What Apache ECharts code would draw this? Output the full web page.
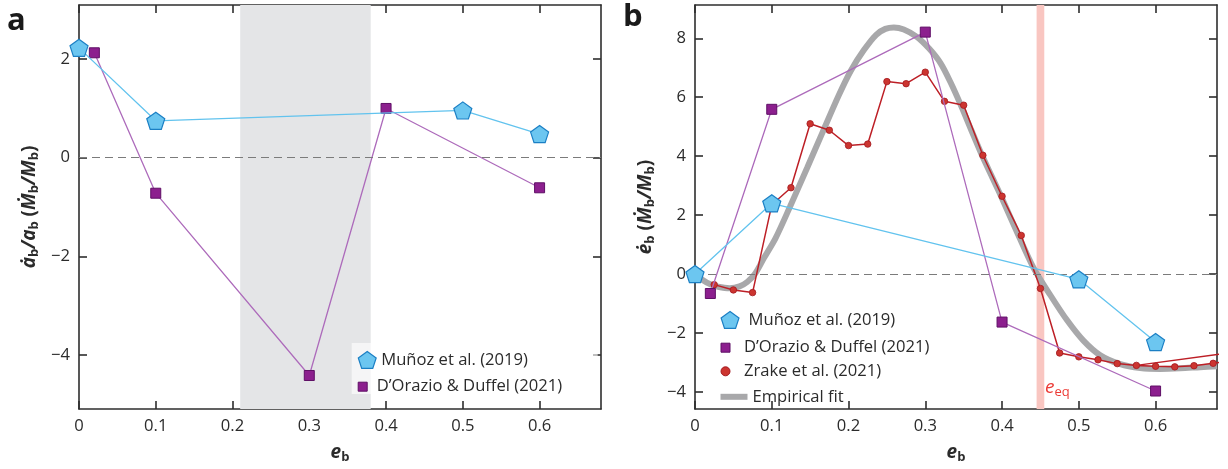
<!DOCTYPE html>
<html>
<head>
<meta charset="utf-8">
<script src="https://cdn.jsdelivr.net/npm/echarts@6/dist/echarts.min.js"></script>
<style>
  html, body { margin: 0; padding: 0; background: #fff; }
  #chart { width: 1228px; height: 469px; }
</style>
</head>
<body>
<div id="chart"></div>
<script>
// ---- Panel a: semimajor-axis evolution rate ----
const aMunozE = [0, 0.1, 0.5, 0.6];
const aMunozVal = [2.23, 0.75, 0.96, 0.48];
const aDorazioE = [0.02, 0.1, 0.3, 0.4, 0.6];
const aDorazioVal = [2.13, -0.72, -4.42, 1.0, -0.61];
const aShade = [0.21, 0.38];

// ---- Panel b: eccentricity evolution rate ----
const bMunozE = [0, 0.1, 0.5, 0.6];
const bMunozVal = [0.0, 2.4, -0.18, -2.31];
const bDorazioE = [0.02, 0.1, 0.3, 0.4, 0.6];
const bDorazioVal = [-0.66, 5.59, 8.21, -1.63, -3.97];
const zrakeE = [0.025, 0.05, 0.075, 0.1, 0.125, 0.15, 0.175, 0.2, 0.225, 0.25, 0.275, 0.3,
                0.325, 0.35, 0.375, 0.4, 0.425, 0.45, 0.475, 0.5, 0.525, 0.55, 0.575, 0.6,
                0.625, 0.65, 0.675, 0.7];
const zrakeVal = [-0.36, -0.54, -0.63, 2.35, 2.93, 5.10, 4.88, 4.36, 4.41, 6.53, 6.46, 6.85,
                  5.86, 5.73, 4.03, 2.64, 1.31, -0.49, -2.68, -2.81, -2.91, -3.04, -3.10, -3.13,
                  -3.15, -3.11, -3.03, -2.95];
const zrakeBranchE = [0.575, 0.7];
const zrakeBranchVal = [-3.10, -2.66];
const fitE = [0, 0.01, 0.02, 0.03, 0.045, 0.058, 0.068, 0.078, 0.09, 0.105, 0.124, 0.146,
              0.166, 0.187, 0.203, 0.22, 0.236, 0.248, 0.259, 0.272, 0.289, 0.305, 0.32,
              0.333, 0.346, 0.36, 0.372, 0.385, 0.398, 0.419, 0.441, 0.463, 0.485, 0.506,
              0.528, 0.554, 0.58, 0.606, 0.632, 0.658, 0.68];
const fitVal = [0, -0.2, -0.35, -0.43, -0.48, -0.42, -0.27, 0.0, 0.55, 1.22, 2.3, 3.6,
                4.8, 6.05, 6.9, 7.6, 8.12, 8.32, 8.37, 8.3, 8.05, 7.65, 7.15,
                6.5, 5.75, 4.88, 4.14, 3.4, 2.68, 1.45, 0.21, -0.72, -1.58, -2.26,
                -2.76, -3.06, -3.19, -3.22, -3.2, -3.16, -3.13];
const eqBand = [0.445, 0.455];
const eEq = 0.45;

// ---- Tick labels ----
const xTicks = [0, 0.1, 0.2, 0.3, 0.4, 0.5, 0.6];
const aYTicks = [-4, -2, 0, 2];
const bYTicks = [-4, -2, 0, 2, 4, 6, 8];

const zip = (xs, ys) => xs.map((x, i) => [x, ys[i]]);

const FONT = "'Open Sans', 'Noto Sans', sans-serif";
const INK = '#2e2e2e';
const TXT = '#2b2b2b';
const FS = 16.6;
const PENTAGON = 'path://M50,0L97.55,34.55L79.39,90.45L20.61,90.45L2.45,34.55Z';
const SQUARE = 'path://M0,0L10,0L10,10L0,10Z';
const DOT = 'path://M0,5A5,5,0,1,0,10,5A5,5,0,1,0,0,5Z';

const MUNOZ = 'Muñoz et al. (2019)';
const DORAZIO = 'D’Orazio & Duffel (2021)';
const ZRAKE = 'Zrake et al. (2021)';
const FIT = 'Empirical fit';

const munozStyle = {
  symbol: PENTAGON, symbolSize: 18, symbolKeepAspect: true,
  lineStyle: { color: '#62c3ee', width: 1.3 },
  itemStyle: { color: '#6cc6f0', borderColor: '#1b7fc4', borderWidth: 1.2 }
};
const dorazioStyle = {
  symbol: 'rect', symbolSize: 10,
  lineStyle: { color: '#ad6bbb', width: 1.3 },
  itemStyle: { color: '#8c1f8e', borderColor: '#5f0f66', borderWidth: 1 }
};

const fmt = v => String(v).replace('-', '−');

function xAxisPair(grid) {
  return [
    {
      type: 'value', gridIndex: grid, min: 0, max: 0.68, position: 'bottom',
      axisLine: { show: true, onZero: false, lineStyle: { color: INK, width: 1.6 } },
      axisTick: { show: true, inside: true, length: 8, customValues: xTicks, lineStyle: { color: INK, width: 1.6 } },
      axisLabel: { show: true, customValues: xTicks, formatter: fmt, margin: 9, fontSize: FS, color: TXT, fontFamily: FONT },
      splitLine: { show: false },
      name: '{d|e}{s|b}', nameLocation: 'middle', nameGap: 33,
      nameTextStyle: {
        rich: {
          d: { fontSize: 19, fontWeight: 'bold', fontStyle: 'italic', color: TXT, fontFamily: FONT, lineHeight: 22, verticalAlign: 'middle' },
          s: { fontSize: 13, fontWeight: 'bold', color: TXT, fontFamily: FONT, lineHeight: 10, verticalAlign: 'bottom' }
        }
      }
    },
    {
      type: 'value', gridIndex: grid, min: 0, max: 0.68, position: 'top',
      axisLine: { show: true, onZero: false, lineStyle: { color: INK, width: 1.6 } },
      axisTick: { show: true, inside: true, length: 8, customValues: xTicks, lineStyle: { color: INK, width: 1.6 } },
      axisLabel: { show: false },
      splitLine: { show: false }
    }
  ];
}

function yAxisPair(grid, min, max, ticks, nameRich, gap) {
  const rich = {
    d: { fontSize: 19, fontWeight: 'bold', fontStyle: 'italic', color: TXT, fontFamily: FONT, lineHeight: 22, verticalAlign: 'middle' },
    p: { fontSize: 19, fontWeight: 'bold', color: TXT, fontFamily: FONT, lineHeight: 22, verticalAlign: 'middle' },
    s: { fontSize: 13, fontWeight: 'bold', color: TXT, fontFamily: FONT, lineHeight: 10, verticalAlign: 'bottom' }
  };
  return [
    {
      type: 'value', gridIndex: grid, min, max, position: 'left',
      axisLine: { show: true, onZero: false, lineStyle: { color: INK, width: 1.6 } },
      axisTick: { show: true, inside: true, length: 8, customValues: ticks, lineStyle: { color: INK, width: 1.6 } },
      axisLabel: { show: true, customValues: ticks, formatter: fmt, margin: 9, fontSize: FS, color: TXT, fontFamily: FONT },
      splitLine: { show: false },
      name: nameRich, nameLocation: 'middle', nameGap: gap, nameRotate: 90,
      nameTextStyle: { rich }
    },
    {
      type: 'value', gridIndex: grid, min, max, position: 'right',
      axisLine: { show: true, onZero: false, lineStyle: { color: INK, width: 1.6 } },
      axisTick: { show: true, inside: true, length: 8, customValues: ticks, lineStyle: { color: INK, width: 1.6 } },
      axisLabel: { show: false },
      splitLine: { show: false }
    }
  ];
}

// Red ticks marking the equilibrium eccentricity on panel b
function eqTickAxis(pos) {
  return {
    type: 'value', gridIndex: 1, min: 0, max: 0.68, position: pos,
    axisLine: { show: false },
    axisTick: { show: true, inside: true, length: 9, customValues: [eEq], lineStyle: { color: '#ec3a35', width: 2 } },
    axisLabel: { show: false },
    splitLine: { show: false }
  };
}

const zeroLine = {
  silent: true, symbol: ['none', 'none'], animation: false,
  label: { show: false },
  lineStyle: { color: '#7b7b7b', type: [8, 5], width: 1.2 },
  data: [{ yAxis: 0 }]
};

const legendBase = {
  orient: 'vertical', padding: 0, itemGap: 0, symbolKeepAspect: true,
  textStyle: { fontSize: FS, color: TXT, fontFamily: FONT },
  selectedMode: false, z: 6
};

const option = {
  animation: false,
  backgroundColor: '#ffffff',
  grid: [
    { left: 79, top: 5, width: 522, height: 407 },
    { left: 695, top: 5, width: 522, height: 407 }
  ],
  xAxis: [...xAxisPair(0), ...xAxisPair(1), eqTickAxis('bottom'), eqTickAxis('top')],
  yAxis: [
    ...yAxisPair(0, -5.1, 3.1, aYTicks,
      '{d|ȧ}{s|b}{d|/a}{s|b}{p| (}{d|Ṁ}{s|b}{d|/M}{s|b}{p|)}', 38),
    ...yAxisPair(1, -4.58, 9.13, bYTicks,
      '{d|ė}{s|b}{p| (}{d|Ṁ}{s|b}{d|/M}{s|b}{p|)}', 38)
  ],
  legend: [
    { ...legendBase, left: 357.7, top: 350.8, itemWidth: 18, itemHeight: 17, icon: PENTAGON,
      itemStyle: { borderWidth: 1.2 }, data: [MUNOZ] },
    { ...legendBase, left: 357.7, top: 378.2, itemWidth: 18, itemHeight: 9, icon: SQUARE,
      itemStyle: { borderWidth: 1 }, data: [DORAZIO] },
    { ...legendBase, left: 720.5, top: 310.8, itemWidth: 27, itemHeight: 17, icon: PENTAGON,
      itemStyle: { borderWidth: 1.2 }, data: [MUNOZ] },
    { ...legendBase, left: 720.5, top: 339.2, itemWidth: 27, itemHeight: 9, icon: SQUARE,
      itemStyle: { borderWidth: 1 }, data: [DORAZIO] },
    { ...legendBase, left: 720.5, top: 362.8, itemWidth: 27, itemHeight: 9, icon: DOT,
      itemStyle: { borderWidth: 1 }, data: [ZRAKE] },
    { ...legendBase, left: 720.5, top: 388.3, itemWidth: 27, itemHeight: 6, icon: 'rect',
      itemStyle: { borderWidth: 0 }, data: [FIT] }
  ],
  graphic: [
    // translucent backing behind the panel-a legend
    { type: 'rect', left: 351.7, top: 343, z: 5, silent: true,
      shape: { width: 246, height: 51 }, style: { fill: 'rgba(255,255,255,0.62)' } },
    { type: 'text', left: 7, top: 6, z: 6, silent: true,
      style: { text: 'a', font: "bold 31px " + FONT, fill: '#1a1a1a' } },
    { type: 'text', left: 623, top: 2, z: 6, silent: true,
      style: { text: 'b', font: "bold 31px " + FONT, fill: '#1a1a1a' } },
    { type: 'text', left: 1045, top: 378, z: 6, silent: true,
      style: {
        text: '{e|e}{q|eq}',
        rich: {
          e: { fontSize: 19, fontStyle: 'italic', fill: '#ec3a35', fontFamily: FONT, lineHeight: 22, verticalAlign: 'middle' },
          q: { fontSize: 13, fill: '#ec3a35', fontFamily: FONT, lineHeight: 10, verticalAlign: 'bottom' }
        }
      } }
  ],
  series: [
    // ---------- panel a ----------
    {
      name: 'shade-a', type: 'line', xAxisIndex: 0, yAxisIndex: 0, z: 1, data: [],
      markArea: {
        silent: true, itemStyle: { color: '#e4e5e7' },
        data: [[{ xAxis: aShade[0] }, { xAxis: aShade[1] }]]
      }
    },
    {
      name: 'zero-a', type: 'line', xAxisIndex: 0, yAxisIndex: 0, z: 2, data: [],
      markLine: zeroLine
    },
    {
      name: DORAZIO, type: 'line', xAxisIndex: 0, yAxisIndex: 0, z: 3,
      data: zip(aDorazioE, aDorazioVal), ...dorazioStyle
    },
    {
      name: MUNOZ, type: 'line', xAxisIndex: 0, yAxisIndex: 0, z: 4,
      data: zip(aMunozE, aMunozVal), ...munozStyle
    },
    // ---------- panel b ----------
    {
      name: 'band-b', type: 'line', xAxisIndex: 2, yAxisIndex: 2, z: 1, data: [],
      markArea: {
        silent: true, itemStyle: { color: '#f9c6c1' },
        data: [[{ xAxis: eqBand[0] }, { xAxis: eqBand[1] }]]
      }
    },
    {
      name: 'zero-b', type: 'line', xAxisIndex: 2, yAxisIndex: 2, z: 1.5, data: [],
      markLine: zeroLine
    },
    {
      name: FIT, type: 'line', xAxisIndex: 2, yAxisIndex: 2, z: 2,
      data: zip(fitE, fitVal), smooth: 0.3, showSymbol: false, symbol: 'none',
      lineStyle: { color: '#a8a8aa', width: 6 },
      itemStyle: { color: '#a8a8aa' }
    },
    {
      name: ZRAKE, type: 'line', xAxisIndex: 2, yAxisIndex: 2, z: 3,
      data: zip(zrakeE, zrakeVal), symbol: 'circle', symbolSize: 6.5,
      lineStyle: { color: '#bd1f26', width: 1.5 },
      itemStyle: { color: '#cc3530', borderColor: '#a3191f', borderWidth: 0.8 }
    },
    {
      name: ZRAKE + ' ', type: 'line', xAxisIndex: 2, yAxisIndex: 2, z: 3,
      data: zip(zrakeBranchE, zrakeBranchVal), showSymbol: false, symbol: 'none',
      lineStyle: { color: '#bd1f26', width: 1.3 }
    },
    {
      name: DORAZIO, type: 'line', xAxisIndex: 2, yAxisIndex: 2, z: 4,
      data: zip(bDorazioE, bDorazioVal), ...dorazioStyle
    },
    {
      name: MUNOZ, type: 'line', xAxisIndex: 2, yAxisIndex: 2, z: 5,
      data: zip(bMunozE, bMunozVal), ...munozStyle
    }
  ]
};

const chart = echarts.init(document.getElementById('chart'), null, { renderer: 'canvas' });
chart.setOption(option);
</script>
</body>
</html>
